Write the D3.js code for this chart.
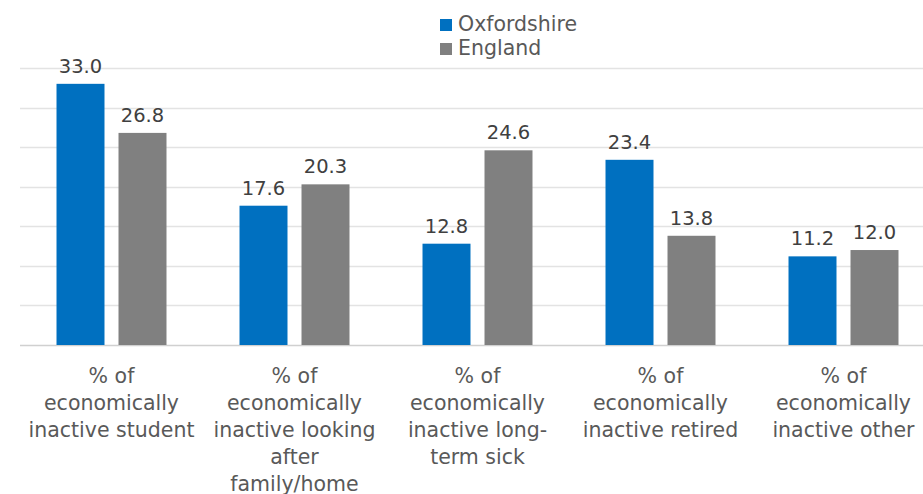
<!DOCTYPE html>
<html><head><meta charset="utf-8">
<script src="https://cdn.jsdelivr.net/npm/d3@7"></script>
<style>
html,body{margin:0;padding:0;background:#fff;overflow:hidden;}
text{font-family:"DejaVu Sans",sans-serif;}
</style></head>
<body><svg id="chart" width="923" height="494"></svg>
<script>
const categories = [
  "% of economically inactive student",
  "% of economically inactive looking after family/home",
  "% of economically inactive long-term sick",
  "% of economically inactive retired",
  "% of economically inactive other"
];
const categoryLines = [
  ["% of","economically","inactive student"],
  ["% of","economically","inactive looking","after","family/home"],
  ["% of","economically","inactive long-","term sick"],
  ["% of","economically","inactive retired"],
  ["% of","economically","inactive other"]
];
const seriesNames = ["Oxfordshire","England"];
const oxfordshire = [33.0, 17.6, 12.8, 23.4, 11.2];
const england = [26.8, 20.3, 24.6, 13.8, 12.0];
const yTicks = [0,5,10,15,20,25,30,35];
const colors = ["#0070C0","#808080"];

const svg = d3.select("#chart");
const seriesVals = [oxfordshire, england];

const x0 = d3.scaleBand().domain(categories).range([20, 935]).paddingInner(0.399).paddingOuter(0.1995);
const x1 = d3.scaleBand().domain(seriesNames).range([0, x0.bandwidth()]).paddingInner(0.226).paddingOuter(0);
const y = d3.scaleLinear().domain([0,35]).range([345,68]);

// gridlines
svg.append("g").selectAll("line").data(yTicks).join("line")
  .attr("x1",20).attr("x2",935)
  .attr("y1",d=>Math.round(y(d))+0.5).attr("y2",d=>Math.round(y(d))+0.5)
  .attr("stroke",d=>d===0?"#d0d0d0":"#e3e3e3").attr("stroke-width",1.5);

// bars
const groups = svg.append("g").selectAll("g").data(categories).join("g")
  .attr("transform",d=>`translate(${x0(d)},0)`);
groups.each(function(cat,i){
  const g = d3.select(this);
  seriesNames.forEach((s,j)=>{
    const v = seriesVals[j][i];
    g.append("rect").attr("x",x1(s)).attr("width",x1.bandwidth())
      .attr("y",y(v)).attr("height",y(0)-y(v)).attr("fill",colors[j]);
    g.append("text").attr("x",x1(s)+x1.bandwidth()/2).attr("y",y(v)-11)
      .attr("text-anchor","middle").attr("font-size","19.5px").attr("fill","#404040")
      .text(v.toFixed(1));
  });
});

// category labels
categories.forEach((c,i)=>{
  const t = svg.append("text").attr("text-anchor","middle").attr("fill","#595959")
    .attr("font-size","20.5px")
    .attr("x",x0(c)+x0.bandwidth()/2).attr("y",383);
  categoryLines[i].forEach((ln,k)=>{
    t.append("tspan").attr("x",x0(c)+x0.bandwidth()/2).attr("dy",k===0?0:27).text(ln);
  });
});

// legend
const lg = svg.append("g").attr("transform","translate(440,18)");
seriesNames.forEach((s,j)=>{
  lg.append("rect").attr("x",0).attr("y",j*24+1).attr("width",12).attr("height",12).attr("fill",colors[j]);
  lg.append("text").attr("x",18).attr("y",j*24+13).attr("font-size","20.5px").attr("fill","#595959").text(s);
});
</script></body></html>
